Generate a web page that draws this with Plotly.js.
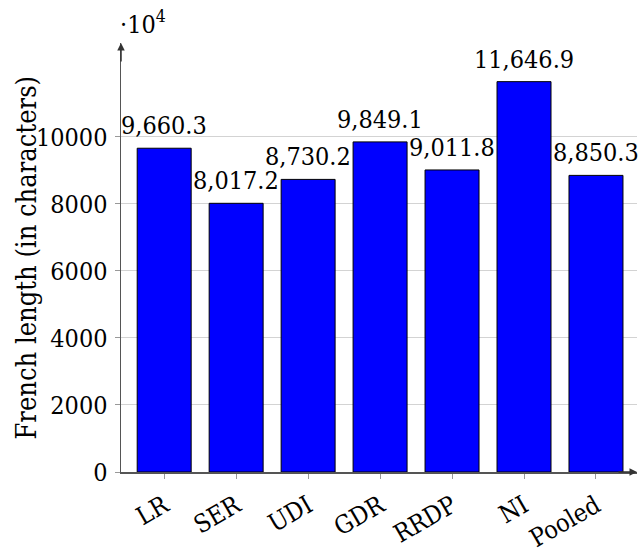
<!DOCTYPE html>
<html>
<head>
<meta charset="utf-8">
<script src="https://cdn.plot.ly/plotly-3.0.1.min.js"></script>
<style>html,body{margin:0;padding:0;background:#fff;}#chart{width:643px;height:555px;}</style>
</head>
<body>
<div id="chart"></div>
<script>
const categories = ["LR", "SER", "UDI", "GDR", "RRDP", "NI", "Pooled"];
const frenchLength = [9660.3, 8017.2, 8730.2, 9849.1, 9011.8, 11646.9, 8850.3];
const yTicks = [0, 2000, 4000, 6000, 8000, 10000];

const FONT = "'DejaVu Serif Condensed', 'DejaVu Serif', serif";
const AXIS = "#555555";
const FS = 25;

const fmt = v => v.toLocaleString("en-US", {minimumFractionDigits: 1, maximumFractionDigits: 1});

const trace = {
  type: "bar",
  x: categories,
  y: frenchLength,
  width: 0.75,
  marker: {color: "#0000ff", line: {color: "#000000", width: 1}},
  hoverinfo: "none"
};

const valueLabels = categories.map((c, i) => ({
  x: c, y: frenchLength[i], xref: "x", yref: "y",
  text: fmt(frenchLength[i]), showarrow: false,
  xanchor: "center", yanchor: "bottom", yshift: 6,
  font: {family: FONT, size: FS, color: "#000"}
}));

const layout = {
  width: 643, height: 555,
  margin: {l: 121, r: 6, t: 43, b: 83},
  paper_bgcolor: "#fff", plot_bgcolor: "#fff",
  font: {family: FONT, size: FS, color: "#000"},
  showlegend: false,
  bargap: 0.25,
  xaxis: {
    type: "category",
    range: [-0.6, 6.57],
    showline: true, linecolor: AXIS, linewidth: 1.5,
    ticks: "outside", ticklen: 5, tickcolor: "#999", tickwidth: 1,
    tickangle: -30, ticklabelstandoff: 3,
    tickfont: {family: FONT, size: 25, color: "#000"},
    showgrid: false, zeroline: false, fixedrange: true
  },
  yaxis: {
    range: [0, 12800],
    tickvals: yTicks,
    ticktext: yTicks.map(v => String(v)),
    showline: true, linecolor: AXIS, linewidth: 1.5,
    ticks: "outside", ticklen: 5, tickcolor: "#999", tickwidth: 1,
    ticklabelstandoff: 2,
    tickfont: {family: FONT, size: FS, color: "#000"},
    showgrid: true, gridcolor: "#d3d3d3", gridwidth: 1,
    zeroline: false, fixedrange: true
  },
  annotations: [
    {xref: "paper", yref: "paper", x: 0, y: 1, ax: 0, ay: 20, showarrow: true,
     arrowhead: 2, arrowsize: 1, arrowwidth: 1.5, arrowcolor: "#333", text: ""},
    {xref: "paper", yref: "paper", x: 1, y: 0, ax: -20, ay: 0, showarrow: true,
     arrowhead: 2, arrowsize: 1, arrowwidth: 1.5, arrowcolor: "#333", text: ""},
    {xref: "paper", yref: "paper", x: 0, y: 1, xanchor: "left", yanchor: "bottom",
     xshift: -3, yshift: 2, showarrow: false, text: "·10<sup>4</sup>",
     font: {family: FONT, size: FS, color: "#000"}},
    {xref: "paper", yref: "paper", x: 0, y: 0.5, xanchor: "center", yanchor: "middle",
     xshift: -95, textangle: -90, showarrow: false, text: "French length (in characters)",
     font: {family: FONT, size: 27, color: "#000"}}
  ].concat(valueLabels)
};

Plotly.newPlot("chart", [trace], layout, {displayModeBar: false, staticPlot: true});
</script>
</body>
</html>
